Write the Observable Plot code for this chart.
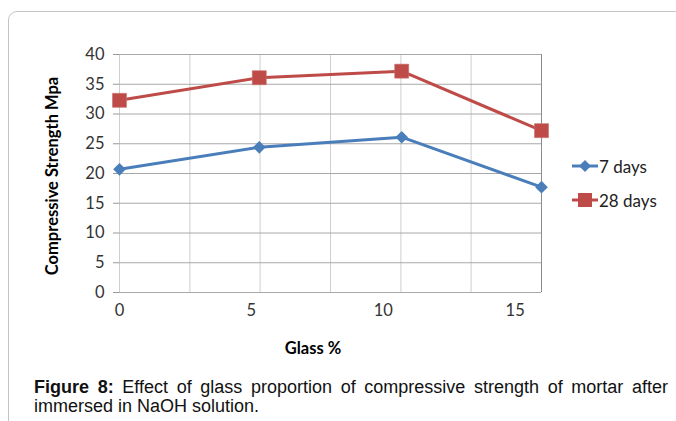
<!DOCTYPE html>
<html>
<head>
<meta charset="utf-8">
<script src="https://cdn.jsdelivr.net/npm/d3@7"></script>
<script src="https://cdn.jsdelivr.net/npm/@observablehq/plot@0.6"></script>
<style>
  html, body { margin: 0; padding: 0; background: #fff; }
  #page { position: relative; width: 676px; height: 421px; overflow: hidden; }
  #frame { position: absolute; left: 8px; top: 11px; width: 720px; height: 460px;
           border: 1.5px solid #c4c4c4; border-top-left-radius: 9px; box-sizing: border-box; }
  #chart { position: absolute; left: 0; top: 0; }
  #ylabel { position: absolute; left: 52px; top: 176px; transform: translate(-50%, -50%) rotate(-90deg);
            font: bold 16.5px Lato, sans-serif; color: #000; white-space: nowrap; }
  #xlabel { position: absolute; left: 313px; top: 348px; transform: translate(-50%, -50%);
            font: bold 16.5px Lato, sans-serif; color: #000; white-space: nowrap; }
  #legend { position: absolute; left: 572px; top: 155px; font: 17px Lato, sans-serif; color: #222; }
  .item { display: flex; align-items: center; height: 22px; margin-bottom: 12px; }
  .item svg { margin-right: 1px; }
  .cap { position: absolute; left: 34px; width: 634px; font: 18px "Liberation Sans", Arial, sans-serif;
         line-height: 19px; height: 19px; color: #111; white-space: nowrap; }
  #cap1 { top: 378px; text-align: justify; text-align-last: justify; }
  #cap2 { top: 397px; }
</style>
</head>
<body>
<div id="page">
  <div id="frame"></div>
  <div id="chart"></div>
  <div id="ylabel">Compressive Strength Mpa</div>
  <div id="xlabel">Glass %</div>
  <div id="legend"></div>
  <div class="cap" id="cap1"><b>Figure 8:</b> Effect of glass proportion of compressive strength of mortar after</div>
  <div class="cap" id="cap2">immersed in NaOH solution.</div>
</div>
<script>
const glass = [0, 5.3, 10.7, 16];
const days7 = [20.7, 24.4, 26.1, 17.7];
const days28 = [32.3, 36.1, 37.2, 27.2];
const seriesNames = ["7 days", "28 days"];
const seriesColors = ["#4A7EBB", "#BE4B48"];
const xTicks = [0, 5, 10, 15];
const yTicks = [0, 5, 10, 15, 20, 25, 30, 35, 40];
const xGrid = [0, 2.67, 5.33, 8, 10.67, 13.33, 16];

const d7 = glass.map((g, i) => ({ x: g, y: days7[i] }));
const d28 = glass.map((g, i) => ({ x: g, y: days28[i] }));

const chart = Plot.plot({
  width: 676, height: 350,
  marginLeft: 119, marginRight: 135, marginTop: 54, marginBottom: 58,
  style: { fontFamily: "Lato, sans-serif", color: "#333", background: "transparent" },
  x: { domain: [0, 16] },
  y: { domain: [0, 40] },
  marks: [
    Plot.ruleX(xGrid, { stroke: "#cfcfcf", strokeWidth: 1 }),
    Plot.ruleY(yTicks, { stroke: "#a8a8a8", strokeWidth: 1 }),
    Plot.axisY({ ticks: yTicks, tickSize: 6, tickPadding: 9, fontSize: 16.5, label: null, stroke: "#999" }),
    Plot.axisX({ ticks: xTicks, tickSize: 0, tickPadding: 12, fontSize: 16.5, label: null }),
    Plot.ruleX([16], { stroke: "#8c8c8c" }),
    Plot.line(d7, { x: "x", y: "y", stroke: seriesColors[0], strokeWidth: 3 }),
    Plot.line(d28, { x: "x", y: "y", stroke: seriesColors[1], strokeWidth: 3 }),
    Plot.dot(d7, { x: "x", y: "y", symbol: "diamond2", r: 5.7, fill: seriesColors[0], stroke: "none" }),
    Plot.dot(d28, { x: "x", y: "y", symbol: "square", r: 7.9, fill: seriesColors[1], stroke: "#c9716e", strokeWidth: 0.6 })
  ]
});
document.getElementById("chart").appendChild(chart);

const legend = document.getElementById("legend");
seriesNames.forEach((name, i) => {
  const item = document.createElement("div");
  item.className = "item";
  const mk = i === 0
    ? '<path d="M13,5 L19,11 L13,17 L7,11 Z" fill="' + seriesColors[i] + '"/>'
    : '<rect x="6" y="4" width="14" height="14" fill="' + seriesColors[i] + '"/>';
  item.innerHTML = '<svg width="26" height="22"><line x1="0" x2="26" y1="11" y2="11" stroke="' + seriesColors[i] + '" stroke-width="3"/>' + mk + '</svg><span>' + name + '</span>';
  legend.appendChild(item);
});
</script>
</body>
</html>
